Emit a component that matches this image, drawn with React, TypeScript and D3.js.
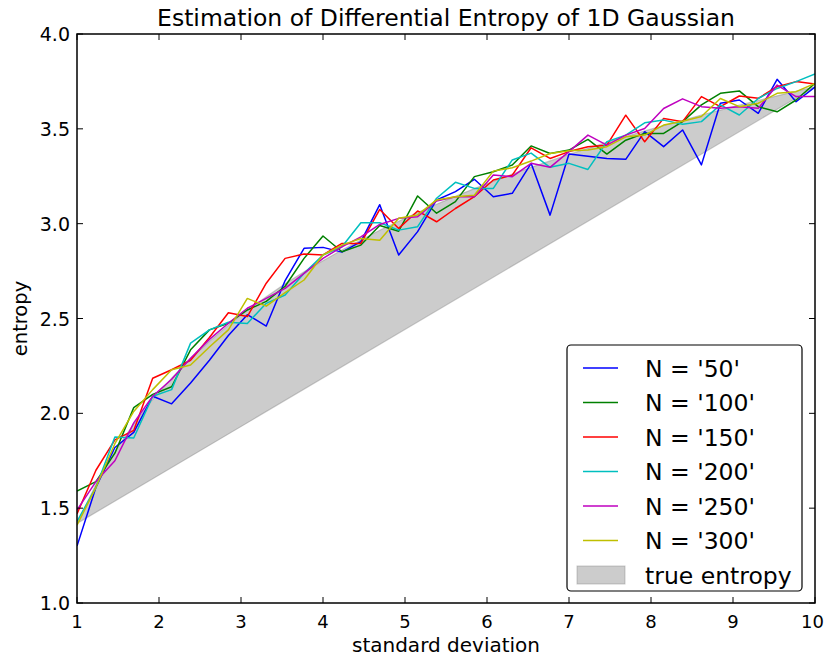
import React from "react";
import * as d3 from "d3";

const sigmas = [1.0, 1.231, 1.462, 1.692, 1.923, 2.154, 2.385, 2.615, 2.846, 3.077, 3.308, 3.538, 3.769, 4.0, 4.231, 4.462, 4.692, 4.923, 5.154, 5.385, 5.615, 5.846, 6.077, 6.308, 6.538, 6.769, 7.0, 7.231, 7.462, 7.692, 7.923, 8.154, 8.385, 8.615, 8.846, 9.077, 9.308, 9.538, 9.769, 10.0];

const trueEntropy = [1.419, 1.626, 1.798, 1.945, 2.073, 2.186, 2.288, 2.380, 2.465, 2.543, 2.615, 2.683, 2.746, 2.805, 2.861, 2.914, 2.965, 3.013, 3.059, 3.102, 3.144, 3.185, 3.223, 3.261, 3.297, 3.331, 3.365, 3.397, 3.429, 3.459, 3.489, 3.517, 3.545, 3.573, 3.599, 3.625, 3.650, 3.674, 3.698, 3.721];

const n50 = [1.30, 1.61, 1.82, 1.90, 2.09, 2.05, 2.16, 2.28, 2.41, 2.52, 2.46, 2.70, 2.87, 2.875, 2.85, 2.905, 3.10, 2.835, 2.958, 3.125, 3.169, 3.234, 3.142, 3.16, 3.318, 3.045, 3.367, 3.356, 3.344, 3.339, 3.485, 3.406, 3.494, 3.31, 3.635, 3.652, 3.582, 3.761, 3.643, 3.72];
const n100 = [1.59, 1.64, 1.79, 2.03, 2.10, 2.14, 2.335, 2.44, 2.475, 2.545, 2.59, 2.67, 2.817, 2.935, 2.852, 2.887, 2.99, 2.96, 3.146, 3.055, 3.116, 3.248, 3.274, 3.309, 3.41, 3.37, 3.388, 3.444, 3.367, 3.44, 3.476, 3.476, 3.538, 3.626, 3.687, 3.70, 3.617, 3.59, 3.652, 3.74];
const n150 = [1.47, 1.70, 1.86, 1.91, 2.185, 2.23, 2.28, 2.40, 2.53, 2.51, 2.686, 2.817, 2.84, 2.835, 2.896, 2.896, 3.075, 2.975, 3.067, 3.01, 3.08, 3.142, 3.23, 3.256, 3.40, 3.344, 3.38, 3.406, 3.414, 3.572, 3.432, 3.555, 3.538, 3.67, 3.617, 3.673, 3.661, 3.722, 3.749, 3.736];
const n200 = [1.43, 1.61, 1.875, 1.87, 2.09, 2.125, 2.37, 2.44, 2.48, 2.474, 2.58, 2.624, 2.738, 2.835, 2.878, 3.005, 3.005, 2.966, 2.984, 3.134, 3.218, 3.186, 3.186, 3.336, 3.372, 3.297, 3.318, 3.286, 3.432, 3.467, 3.532, 3.546, 3.524, 3.538, 3.626, 3.573, 3.66, 3.713, 3.749, 3.79];
const n250 = [1.49, 1.64, 1.75, 1.95, 2.09, 2.18, 2.29, 2.39, 2.475, 2.554, 2.606, 2.659, 2.738, 2.817, 2.878, 2.93, 2.996, 3.028, 3.037, 3.12, 3.142, 3.142, 3.256, 3.248, 3.318, 3.297, 3.38, 3.467, 3.414, 3.467, 3.502, 3.607, 3.658, 3.617, 3.608, 3.617, 3.608, 3.731, 3.67, 3.67];
const n300 = [1.41, 1.61, 1.84, 2.01, 2.125, 2.23, 2.255, 2.35, 2.44, 2.606, 2.565, 2.636, 2.703, 2.835, 2.887, 2.922, 2.912, 3.028, 3.046, 3.125, 3.142, 3.15, 3.277, 3.295, 3.33, 3.37, 3.385, 3.388, 3.406, 3.458, 3.467, 3.52, 3.54, 3.565, 3.66, 3.617, 3.635, 3.687, 3.696, 3.74];

const seriesLabels = ["N = '50'", "N = '100'", "N = '150'", "N = '200'", "N = '250'", "N = '300'"];
const seriesColors = ["#0000ff", "#008000", "#ff0000", "#00bfbf", "#bf00bf", "#bfbf00"];
const seriesValues = [n50, n100, n150, n200, n250, n300];

const xTicks = [1, 2, 3, 4, 5, 6, 7, 8, 9, 10];
const yTicks = [1.0, 1.5, 2.0, 2.5, 3.0, 3.5, 4.0];

const W = 825;
const H = 656;
const L = 77;
const R = 815;
const T = 34;
const B = 603;
const FONT = "DejaVu Sans, Verdana, sans-serif";

export default function App() {
  const x = d3.scaleLinear().domain([1, 10]).range([L, R]);
  const y = d3.scaleLinear().domain([1, 4]).range([B, T]);

  const linePath = d3
    .line<number>()
    .x((_, i) => x(sigmas[i]))
    .y((d) => y(d));

  const fillPath = linePath(trueEntropy) + "Z";

  const legendX = 567;
  const legendY = 345;
  const rowH = 34.5;

  return (
    <svg
      width={W}
      height={H}
      style={{ position: "absolute", left: 0, top: 0, background: "#fff" }}
      fontFamily={FONT}
    >
      <rect x={0} y={0} width={W} height={H} fill="#fff" />
      <defs>
        <clipPath id="plotclip">
          <rect x={L} y={T} width={R - L} height={B - T} />
        </clipPath>
      </defs>
      <g clipPath="url(#plotclip)">
        <path d={fillPath} fill="#808080" fillOpacity={0.4} stroke="#808080" strokeOpacity={0.4} strokeWidth={1.2} />
        {seriesValues.map((vals, k) => (
          <path
            key={k}
            d={linePath(vals) || ""}
            fill="none"
            stroke={seriesColors[k]}
            strokeWidth={1.5}
            strokeLinejoin="round"
          />
        ))}
      </g>

      {xTicks.map((t, i) => {
        const last = i === xTicks.length - 1;
        return (
          <g key={"xt" + t}>
            <line x1={x(t)} x2={x(t)} y1={B} y2={B - 6} stroke="#000" strokeWidth={1} />
            <line x1={x(t)} x2={x(t)} y1={T} y2={T + 6} stroke="#000" strokeWidth={1} />
            <text
              x={last ? W - 1 : x(t)}
              y={628}
              textAnchor={last ? "end" : "middle"}
              fontSize={18}
              fill="#000"
            >
              {t}
            </text>
          </g>
        );
      })}
      {yTicks.map((t) => (
        <g key={"yt" + t}>
          <line x1={L} x2={L + 6} y1={y(t)} y2={y(t)} stroke="#000" strokeWidth={1} />
          <line x1={R} x2={R - 6} y1={y(t)} y2={y(t)} stroke="#000" strokeWidth={1} />
          <text x={70} y={y(t) + 7} textAnchor="end" fontSize={19} fill="#000">
            {t.toFixed(1)}
          </text>
        </g>
      ))}

      <rect x={L} y={T} width={R - L} height={B - T} fill="none" stroke="#000" strokeWidth={1.5} />

      <text x={(L + R) / 2} y={26} textAnchor="middle" fontSize={23.5} fill="#000">
        Estimation of Differential Entropy of 1D Gaussian
      </text>
      <text x={(L + R) / 2} y={652} textAnchor="middle" fontSize={20} fill="#000">
        standard deviation
      </text>
      <text
        transform={`translate(27, ${(T + B) / 2}) rotate(-90)`}
        textAnchor="middle"
        fontSize={19.5}
        fill="#000"
      >
        entropy
      </text>

      <rect x={legendX} y={legendY} width={235} height={246} rx={4} fill="#fff" stroke="#000" strokeWidth={1.2} />
      {seriesLabels.map((lab, k) => {
        const cy = legendY + 23 + k * rowH;
        return (
          <g key={"lg" + k}>
            <line x1={583} x2={618} y1={cy} y2={cy} stroke={seriesColors[k]} strokeWidth={1.5} />
            <text x={645} y={cy + 8.5} fontSize={23.5} fill="#000">
              {lab}
            </text>
          </g>
        );
      })}
      <rect x={577} y={legendY + 23 + 6 * rowH - 9} width={48} height={18} fill="#808080" fillOpacity={0.4} stroke="#808080" strokeOpacity={0.4} />
      <text x={645} y={legendY + 23 + 6 * rowH + 8.5} fontSize={23.5} fill="#000">
        true entropy
      </text>
    </svg>
  );
}
